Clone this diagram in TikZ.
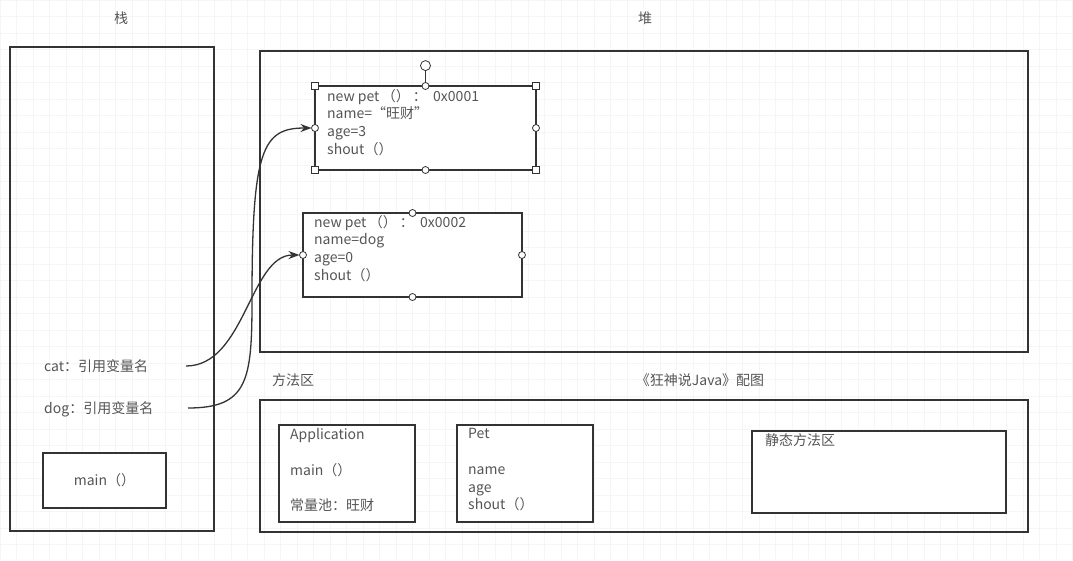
\documentclass[tikz,border=0pt]{standalone}
\usepackage{fontspec}
\newfontfamily\cjk{Noto Sans CJK SC}
\usepackage{tikz}
\usetikzlibrary{arrows.meta,positioning}
\newcommand{\dfont}{\cjk\fontsize{14}{17.75}\selectfont}
\tikzset{
  region/.style ={draw=linegray, line width=1.4pt, inner sep=0pt,
                  outer sep=0pt, anchor=north west},
  objbox/.style ={draw=linegray, line width=1.6pt, fill=white,
                  inner sep=0pt, outer sep=0pt},
  txt/.style    ={font=\dfont, text=txtgray, inner sep=0pt,
                  align=left},
  lbl/.style    ={txt, anchor=center},
  arr/.style    ={-{Stealth[length=11pt,width=8pt]}, line width=1.3pt,
                  draw=linegray, shorten >=3.5pt},
  hcirc/.style  ={circle, draw=linegray, fill=white, line width=0.8pt,
                  minimum size=7pt, inner sep=0pt},
  hsq/.style    ={rectangle, draw=linegray, fill=white, line width=0.8pt,
                  minimum size=6.5pt, inner sep=0pt},
  gridline/.style={draw=gridc, line width=0.5pt},
}
\definecolor{linegray}{RGB}{51,51,51}
\definecolor{txtgray} {RGB}{85,85,85}
\definecolor{gridc}   {RGB}{245,245,245}

\begin{document}
\begin{tikzpicture}[x=1pt,y=-1pt]
  \useasboundingbox (0,0) rectangle (1073,560);
  \foreach \gx in {0,16.5,...,1073}
    \draw[gridline] (\gx,0) -- (\gx,560);
  \foreach \gy in {0,16.5,...,560}
    \draw[gridline] (0,\gy) -- (1073,\gy);
  % stack
  \node[lbl] (stacklbl) at (121,18) {栈};
  \node[region, minimum width=204, minimum height=484] (stack) at (10,47) {};
  \node[txt, anchor=west] (catref) at (44,366) {cat：引用变量名};
  \node[txt, anchor=west] (dogref) at (44,409) {dog：引用变量名};
  \coordinate (catend) at (186,366);
  \coordinate (dogend) at (188,408);
  \node[objbox, txt, minimum width=123, minimum height=55] (mainf) at (104.5,480.5) {main（）};
  % heap
  \node[lbl] (heaplbl) at (645,18) {堆};
  \node[region, minimum width=768, minimum height=301] (heap) at (260,51) {};
  \node[objbox, anchor=north west, minimum width=221, minimum height=84] (box1) at (315,86) {};
  \node[txt, anchor=north west] (box1txt) at (327,89)
    {new pet\,（）\ ：\ \ 0x0001\\name=“旺财”\\age=3\\shout（）};
  \node[objbox, anchor=north west, minimum width=219, minimum height=84] (box2) at (303,213) {};
  \node[txt, anchor=north west] (box2txt) at (314,215)
    {new pet\,（）\ ：\ \ 0x0002\\name=dog\\age=0\\shout（）};
  % method area
  \node[lbl] (methlbl) at (293,380) {方法区};
  \node[lbl] (credit) at (700,380) {《狂神说Java》配图};
  \node[region, minimum width=768, minimum height=132] (meth) at (260,400) {};
  \node[objbox, anchor=north west, minimum width=136, minimum height=97] (app) at (279,425) {};
  \node[txt, anchor=north west] (apptxt) at (290,428.5)
    {Application\\\mbox{}\\main（）\\\mbox{}\\常量池：旺财};
  \node[objbox, anchor=north west, minimum width=136, minimum height=97] (pet) at (457,425) {};
  \node[txt, anchor=north west] (pettxt) at (468,428.5)
    {Pet\\\mbox{}\\name\\age\\shout（）};
  \node[objbox, anchor=north west, minimum width=254, minimum height=82] (static) at (752,431) {};
  \node[txt, anchor=west] (statictxt) at (765,440) {静态方法区};
  % references
  \draw[arr] (catend) .. controls (245,366) and (250,255) .. (box2.west);
  \draw[arr] (dogend) .. controls (248,408) and (252,380) .. (252,300)
    .. controls (252,150) and (262,128) .. (box1.west);
  % handles
  \draw[linegray, line width=0.8pt] (box1.north) -- ++(0,-15) node[hcirc, minimum size=10pt, anchor=south] (rot) {};
  \foreach \a in {north west,north east,south west,south east}
    \node[hsq] at (box1.\a) {};
  \foreach \a in {north,south,west,east}{
    \node[hcirc] at (box1.\a) {};
    \node[hcirc] at (box2.\a) {};
  }
\end{tikzpicture}
\end{document}
